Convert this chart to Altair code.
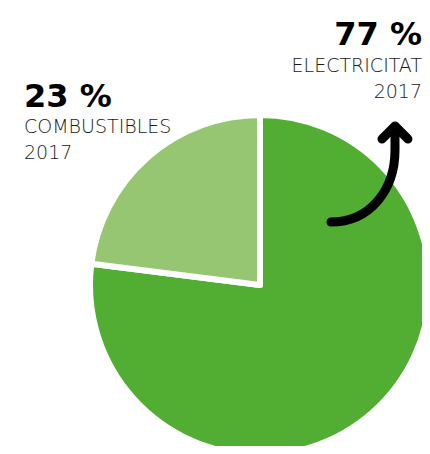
import altair as alt
import pandas as pd

# Data
categories = ["Electricitat", "Combustibles"]
shares = [77, 23]
year = "2017"
pct_labels = ["77 %", "23 %"]
name_labels = ["ELECTRICITAT", "COMBUSTIBLES"]
colors = ["#52ae32", "#97c673"]

df = pd.DataFrame({"cat": categories, "share": shares, "idx": list(range(len(categories)))})

W, H = 414, 438
CX, CY = 252, 277

pie = alt.Chart(df).mark_arc(
    stroke="white", strokeWidth=6, radius=170, strokeJoin="round"
).encode(
    theta=alt.Theta("share:Q", stack=True),
    order=alt.Order("idx:Q"),
    color=alt.Color("cat:N", scale=alt.Scale(domain=categories, range=colors), legend=None),
    x=alt.value(CX),
    y=alt.value(CY),
)

base = alt.Chart(pd.DataFrame({"a": [0]}))

FONT = "DejaVu Sans"

def txt(text, x, y, align, size, weight, color):
    return base.mark_text(
        text=text, align=align, baseline="alphabetic", font=FONT,
        fontSize=size, fontWeight=weight, color=color
    ).encode(x=alt.value(x), y=alt.value(y))

labels = [
    txt(pct_labels[0], 414, 37, "right", 32, "bold", "#000000"),
    txt(name_labels[0], 414, 64, "right", 19, 200, "#1a1a1a"),
    txt(year, 414, 90, "right", 19, 200, "#1a1a1a"),
    txt(pct_labels[1], 16, 99, "left", 32, "bold", "#000000"),
    txt(name_labels[1], 16, 125, "left", 19, 200, "#1a1a1a"),
    txt(year, 16, 151, "left", 19, 200, "#1a1a1a"),
]

arrow_path = (
    "M -0.71 0.855 C 0.0 0.855 0.4545 0.273 0.4545 -0.4545 L 0.4545 -0.873 "
    "M 0.218 -0.655 L 0.4545 -0.89 L 0.69 -0.655"
)
arrow = base.mark_point(
    shape=arrow_path, size=12100, filled=False, stroke="black", strokeWidth=9,
    strokeCap="round", strokeJoin="round", opacity=1
).encode(x=alt.value(362), y=alt.value(167))

chart = alt.layer(pie, arrow, *labels).properties(
    width=W, height=H, autosize=alt.AutoSizeParams(type="none"), padding=0
).configure_view(stroke=None)

chart.save("out.html", embed_options={"renderer": "svg", "actions": False})
